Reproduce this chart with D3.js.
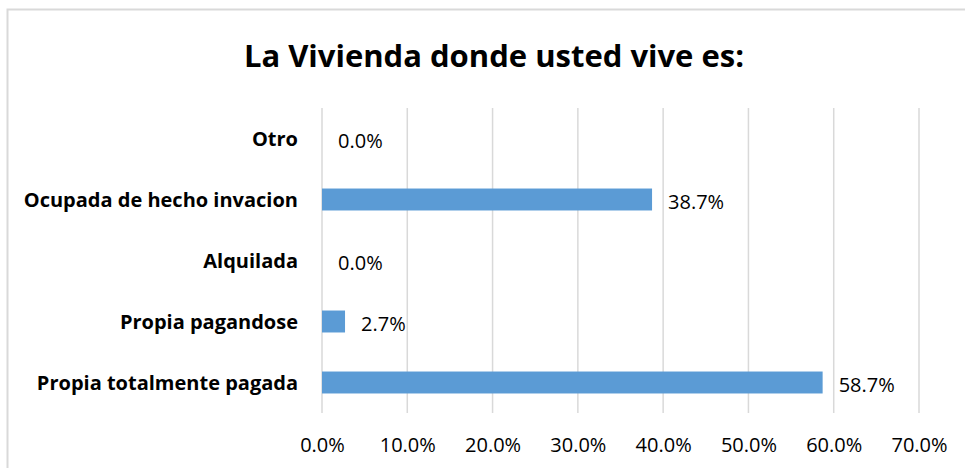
<!DOCTYPE html>
<html><head><meta charset="utf-8">
<script src="https://cdn.jsdelivr.net/npm/d3@7"></script>
<style>body{margin:0;background:#fff}svg{display:block}</style>
</head><body>
<svg id="c" width="965" height="468"></svg>
<script>
const categories = ["Otro", "Ocupada de hecho invacion", "Alquilada", "Propia pagandose", "Propia totalmente pagada"];
const values = [0.0, 0.387, 0.0, 0.027, 0.587];
const tickValues = [0, 0.1, 0.2, 0.3, 0.4, 0.5, 0.6, 0.7];
const title = "La Vivienda donde usted vive es:";

const svg = d3.select("#c");
const FONT = "'Open Sans', sans-serif";
const M = {left: 322, right: 919, top: 108, bottom: 413};

svg.append("rect").attr("x", 7.5).attr("y", 9.5).attr("width", 1100).attr("height", 600)
  .attr("fill", "none").attr("stroke", "#D9D9D9").attr("stroke-width", 2);

svg.append("text").attr("x", 494).attr("y", 67).attr("text-anchor", "middle")
  .attr("font-family", FONT).attr("font-weight", "bold").attr("font-size", 31).attr("fill", "#000")
  .text(title);

const x = d3.scaleLinear().domain([0, 0.7]).range([M.left, M.right]);
const y = d3.scaleBand().domain(categories).range([M.top, M.bottom]).paddingInner(0.64).paddingOuter(0.32);

// gridlines
svg.append("g").selectAll("line").data(tickValues).join("line")
  .attr("x1", d => x(d)).attr("x2", d => x(d)).attr("y1", M.top).attr("y2", M.bottom)
  .attr("stroke", "#D9D9D9").attr("stroke-width", 1.5);

// x axis labels
const xAxis = d3.axisBottom(x).tickValues(tickValues).tickFormat(d3.format(".1%")).tickSize(0).tickPadding(0);
const gx = svg.append("g").attr("transform", `translate(0,${M.bottom})`).call(xAxis);
gx.select(".domain").remove();
gx.selectAll("text").attr("font-family", FONT).attr("font-size", 20).attr("fill", "#000")
  .attr("dy", null).attr("y", 39);

// y axis labels
const yAxis = d3.axisLeft(y).tickSize(0).tickPadding(0);
const gy = svg.append("g").attr("transform", `translate(298,0)`).call(yAxis);
gy.select(".domain").remove();
gy.selectAll("text").attr("font-family", FONT).attr("font-weight", "bold").attr("font-size", 20).attr("fill", "#000")
  .attr("dy", "0.35em");

// bars
svg.append("g").selectAll("rect").data(values).join("rect")
  .attr("x", x(0)).attr("y", (d, i) => y(categories[i]))
  .attr("width", d => x(d) - x(0)).attr("height", y.bandwidth())
  .attr("fill", "#5B9BD5");

// data labels
svg.append("g").selectAll("text").data(values).join("text")
  .attr("x", d => x(d) + 16).attr("y", (d, i) => y(categories[i]) + y.bandwidth() / 2 + 2)
  .attr("dy", "0.35em")
  .attr("font-family", FONT).attr("font-size", 20).attr("fill", "#000")
  .text(d => d3.format(".1%")(d));
</script>
</body></html>
